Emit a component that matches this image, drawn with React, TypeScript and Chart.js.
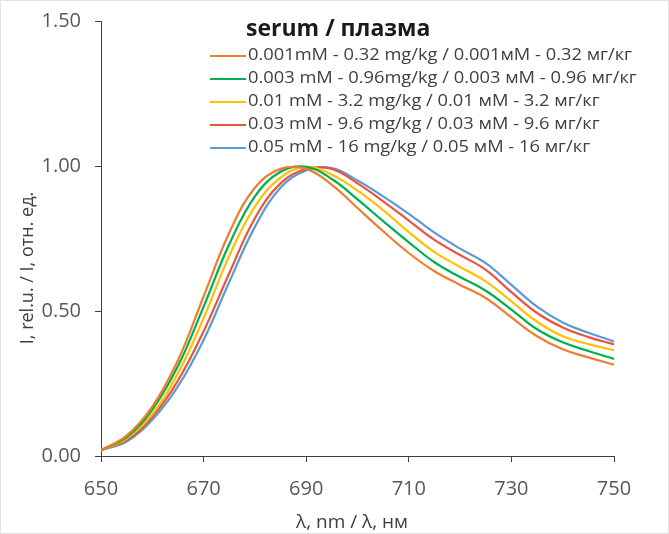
import React, { useEffect, useRef } from "react";
import { Chart, registerables } from "chart.js";

Chart.register(...registerables);

const wavelengths = [650, 655, 660, 665, 670, 675, 680, 685, 690, 695, 700, 705, 710, 715, 720, 725, 730, 735, 740, 745, 750];

const s001 = [0.02, 0.07, 0.17, 0.33, 0.55, 0.77, 0.925, 0.99, 0.99, 0.935, 0.855, 0.775, 0.7, 0.637, 0.59, 0.545, 0.478, 0.413, 0.368, 0.34, 0.315];
const s003 = [0.02, 0.065, 0.16, 0.31, 0.515, 0.73, 0.895, 0.98, 0.997, 0.955, 0.885, 0.81, 0.737, 0.668, 0.617, 0.57, 0.505, 0.437, 0.392, 0.362, 0.335];
const s01 = [0.02, 0.06, 0.145, 0.285, 0.475, 0.69, 0.86, 0.96, 0.997, 0.97, 0.915, 0.848, 0.772, 0.703, 0.652, 0.602, 0.533, 0.463, 0.413, 0.386, 0.365];
const s03 = [0.02, 0.055, 0.135, 0.26, 0.43, 0.63, 0.82, 0.94, 0.99, 0.99, 0.94, 0.878, 0.812, 0.745, 0.693, 0.642, 0.565, 0.493, 0.443, 0.41, 0.385];
const s05 = [0.02, 0.05, 0.125, 0.24, 0.4, 0.6, 0.79, 0.925, 0.985, 0.993, 0.95, 0.895, 0.835, 0.77, 0.715, 0.665, 0.59, 0.515, 0.46, 0.425, 0.395];

const seriesLabels = [
  "0.001mM - 0.32 mg/kg / 0.001мМ - 0.32 мг/кг",
  "0.003 mM - 0.96mg/kg / 0.003 мМ - 0.96 мг/кг",
  "0.01 mM - 3.2 mg/kg / 0.01 мМ - 3.2 мг/кг",
  "0.03 mM - 9.6 mg/kg / 0.03 мМ - 9.6 мг/кг",
  "0.05 mM - 16 mg/kg / 0.05 мМ - 16 мг/кг",
];
const seriesValues = [s001, s003, s01, s03, s05];
const seriesColors = ["#ED7D31", "#00B050", "#FFC000", "#E8553E", "#5B9BD5"];

const legendTitle = "serum / плазма";
const xTitle = "λ, nm / λ, нм";
const yTitle = "I, rel.u. / I, отн. ед.";
const xTicks = [650, 670, 690, 710, 730, 750];
const yTicks = [0, 0.5, 1.0, 1.5];

const FONT = "'Open Sans', 'Liberation Sans', sans-serif";

const overlayPlugin = {
  id: "overlay",
  afterDraw(chart: any) {
    const ctx = chart.ctx;
    ctx.save();
    // frame
    ctx.strokeStyle = "#e3e3e3";
    ctx.lineWidth = 1;
    ctx.strokeRect(0.5, 0.5, chart.width - 1, chart.height - 1);
    ctx.textAlign = "left";
    ctx.textBaseline = "middle";
    // legend title
    ctx.fillStyle = "#1a1a1a";
    ctx.font = `bold 23px ${FONT}`;
    ctx.fillText(legendTitle, 246, 29);
    // legend rows
    ctx.font = `16px ${FONT}`;
    const w0 = ctx.measureText(chart.data.datasets[0].label).width;
    const sx = 384 / w0;
    const rowY = [55, 78, 101, 124, 147];
    chart.data.datasets.forEach((ds: any, i: number) => {
      const y = rowY[i];
      ctx.strokeStyle = ds.borderColor;
      ctx.lineWidth = 2;
      ctx.beginPath();
      ctx.moveTo(210, y + 1);
      ctx.lineTo(246, y + 1);
      ctx.stroke();
      ctx.save();
      ctx.translate(248, y);
      ctx.scale(sx, 1);
      ctx.fillStyle = "#404040";
      ctx.fillText(ds.label, 0, 0);
      ctx.restore();
    });
    // x title
    ctx.textAlign = "center";
    ctx.font = `19px ${FONT}`;
    ctx.fillStyle = "#404040";
    ctx.fillText(xTitle, 352, 523);
    // y title
    ctx.translate(28, 268);
    ctx.rotate(-Math.PI / 2);
    ctx.font = `18px ${FONT}`;
    ctx.fillText(yTitle, 0, 0);
    ctx.restore();
  },
};

export default function App() {
  const ref = useRef<HTMLCanvasElement | null>(null);
  useEffect(() => {
    document.body.style.margin = "0";
    const canvas = ref.current!;
    const chart = new Chart(canvas, {
      type: "line",
      data: {
        datasets: seriesValues.map((vals, i) => ({
          label: seriesLabels[i],
          data: wavelengths.map((w, j) => ({ x: w, y: vals[j] })),
          borderColor: seriesColors[i],
          backgroundColor: seriesColors[i],
          borderWidth: 2.2,
          pointRadius: 0,
          tension: 0.4,
          fill: false,
        })),
      },
      options: {
        animation: false,
        responsive: false,
        maintainAspectRatio: false,
        layout: { padding: { left: 0, right: 55, top: 21, bottom: 0 } },
        plugins: {
          legend: { display: false },
          tooltip: { enabled: false },
        },
        scales: {
          x: {
            type: "linear",
            min: 650,
            max: 750,
            afterBuildTicks: (s: any) => {
              s.ticks = xTicks.map((v) => ({ value: v }));
            },
            afterFit: (s: any) => {
              s.height = 78;
              s.paddingLeft = 0;
              s.paddingRight = 0;
            },
            ticks: {
              color: "#595959",
              font: { family: FONT, size: 20 },
              padding: 15,
              maxRotation: 0,
              callback: (v: any) => String(v),
            },
            grid: { display: true, drawOnChartArea: false, drawTicks: true, tickLength: 6, color: "#404040" },
            border: { display: true, color: "#404040", width: 1 },
          },
          y: {
            type: "linear",
            min: 0,
            max: 1.5,
            afterBuildTicks: (s: any) => {
              s.ticks = yTicks.map((v) => ({ value: v }));
            },
            afterFit: (s: any) => {
              s.width = 101;
              s.paddingTop = 0;
              s.paddingBottom = 0;
            },
            ticks: {
              color: "#595959",
              font: { family: FONT, size: 20 },
              padding: 14,
              callback: (v: any) => Number(v).toFixed(2),
            },
            grid: { display: true, drawOnChartArea: false, drawTicks: true, tickLength: 6, color: "#404040" },
            border: { display: true, color: "#404040", width: 1 },
          },
        },
      },
      plugins: [overlayPlugin],
    });
    return () => chart.destroy();
  }, []);
  return (
    <div style={{ width: 669, height: 534, position: "relative", background: "#fff" }}>
      <canvas ref={ref} width={669} height={534} style={{ display: "block", width: 669, height: 534 }} />
    </div>
  );
}
